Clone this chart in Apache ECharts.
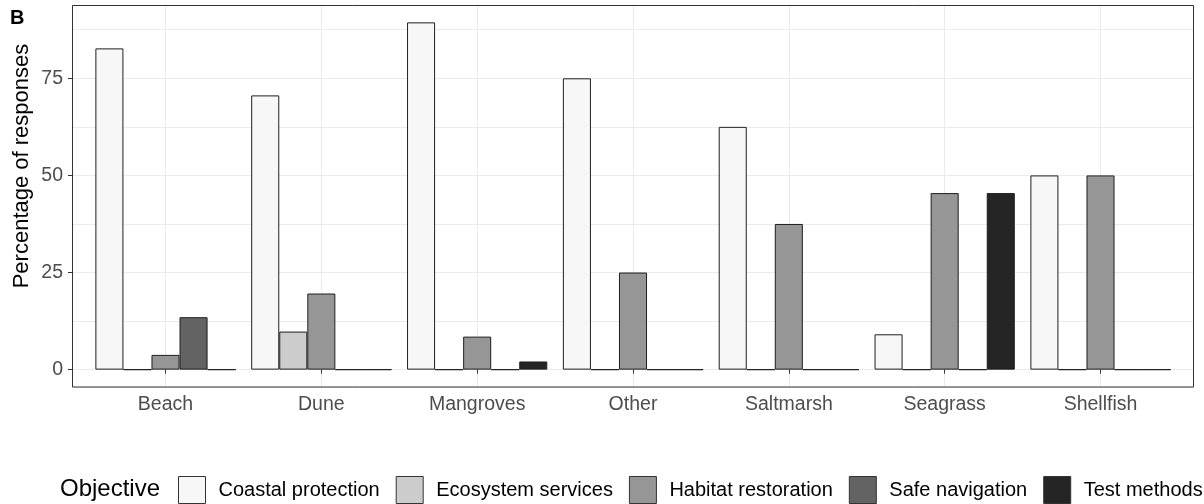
<!DOCTYPE html>
<html>
<head>
<meta charset="utf-8">
<script src="https://cdn.jsdelivr.net/npm/echarts@6/dist/echarts.min.js"></script>
<style>
html,body{margin:0;padding:0;background:#ffffff;}
#chart{width:1204px;height:504px;}
</style>
</head>
<body>
<div id="chart"></div>
<script>
// ---- data ----
const categories = ['Beach', 'Dune', 'Mangroves', 'Other', 'Saltmarsh', 'Seagrass', 'Shellfish'];
const objectives = ['Coastal protection', 'Ecosystem services', 'Habitat restoration', 'Safe navigation', 'Test methods'];
const coastalProtection  = [82.7, 70.6, 89.4, 75.0, 62.5, 9.1, 50.0];
const ecosystemServices  = [0, 9.8, 0, 0, 0, 0, 0];
const habitatRestoration = [3.8, 19.6, 8.5, 25.0, 37.5, 45.45, 50.0];
const safeNavigation     = [13.5, 0, 0, 0, 0, 0, 0];
const testMethods        = [0, 0, 2.1, 0, 0, 45.45, 0];
const yTicks = [0, 25, 50, 75];
const yTitle = 'Percentage of responses';
const legendTitle = 'Objective';
const tag = 'B';

// ---- styling / layout ----
const seriesData = [coastalProtection, ecosystemServices, habitatRestoration, safeNavigation, testMethods];
const fills = ['#F7F7F7', '#CCCCCC', '#969696', '#636363', '#252525'];
const FONT = 'Liberation Sans, Arial, sans-serif';

const allVals = [].concat(...seriesData);
const vmax = Math.max(...allVals);
const yMin = -0.05 * vmax;
const yMax = vmax * 1.05;
const minorStep = (yTicks[1] - yTicks[0]) / 2;

const P = {left: 72, top: 5, width: 1122, height: 382};
const unit = P.width / (categories.length - 1 + 1.2);

const chart = echarts.init(document.getElementById('chart'), null, {renderer: 'canvas'});

const option = {
  animation: false,
  backgroundColor: '#ffffff',
  grid: [
    {left: P.left, top: P.top, width: P.width, height: P.height, containLabel: false},
    {left: P.left + 0.6 * unit, top: P.top, width: (categories.length - 1) * unit, height: P.height, containLabel: false}
  ],
  xAxis: [
    {gridIndex: 0, type: 'value', min: 0, max: 1, show: false},
    {
      gridIndex: 1, type: 'category', data: categories, boundaryGap: false,
      axisLine: {show: false},
      axisTick: {show: true, interval: 0, length: 4, lineStyle: {color: '#333333', width: 1}},
      axisLabel: {interval: 0, color: '#4D4D4D', fontSize: 19.5, fontFamily: FONT, margin: 8},
      splitLine: {show: true, interval: 0, lineStyle: {color: '#EBEBEB', width: 1}}
    }
  ],
  yAxis: [
    {
      gridIndex: 0, type: 'value', min: yMin, max: yMax,
      minInterval: minorStep, maxInterval: minorStep,
      axisLine: {show: false}, axisTick: {show: false}, axisLabel: {show: false},
      splitLine: {show: true, lineStyle: {color: '#EBEBEB', width: 1}}
    },
    {
      gridIndex: 0, type: 'value', min: yMin, max: yMax, position: 'left',
      axisLine: {show: false},
      axisTick: {show: true, customValues: yTicks, length: 4, lineStyle: {color: '#333333', width: 1}},
      axisLabel: {customValues: yTicks, color: '#4D4D4D', fontSize: 19.5, fontFamily: FONT, margin: 9},
      splitLine: {show: false}
    },
    {gridIndex: 1, type: 'value', min: yMin, max: yMax, show: false}
  ],
  legend: {
    show: true,
    type: 'plain',
    data: objectives,
    orient: 'horizontal',
    left: 178, top: 476,
    width: 1200,
    padding: 0,
    icon: 'rect',
    itemWidth: 27, itemHeight: 27, itemGap: 16,
    itemStyle: {borderColor: '#333333', borderWidth: 1},
    textStyle: {color: '#000000', fontSize: 20, fontFamily: FONT, padding: [0, 0, 0, 8]},
    selectedMode: false
  },
  graphic: [
    {type: 'rect', z: 100, silent: true,
     shape: {x: P.left + 0.5, y: P.top + 0.5, width: P.width - 1, height: P.height - 0.5},
     style: {fill: 'none', stroke: '#333333', lineWidth: 1}},
    {type: 'text', left: 10, top: 8, silent: true,
     style: {text: tag, font: 'bold 20px ' + FONT, fill: '#000000'}},
    {type: 'text', left: 60, top: 477, silent: true,
     style: {text: legendTitle, font: '24px ' + FONT, fill: '#000000'}},
    {type: 'text', x: 22, y: 166, rotation: Math.PI / 2, silent: true,
     style: {text: yTitle, font: '22px ' + FONT, fill: '#000000', align: 'center', verticalAlign: 'middle'}}
  ],
  series: objectives.map((name, i) => ({
    name: name,
    type: 'bar',
    xAxisIndex: 1, yAxisIndex: 2,
    data: seriesData[i],
    barWidth: '18%', barGap: '0%', barCategoryGap: '10%',
    clip: false,
    itemStyle: {color: fills[i], borderColor: '#1f1f1f', borderWidth: 1},
    emphasis: {disabled: true},
    silent: true
  }))
};

chart.setOption(option);
</script>
</body>
</html>
